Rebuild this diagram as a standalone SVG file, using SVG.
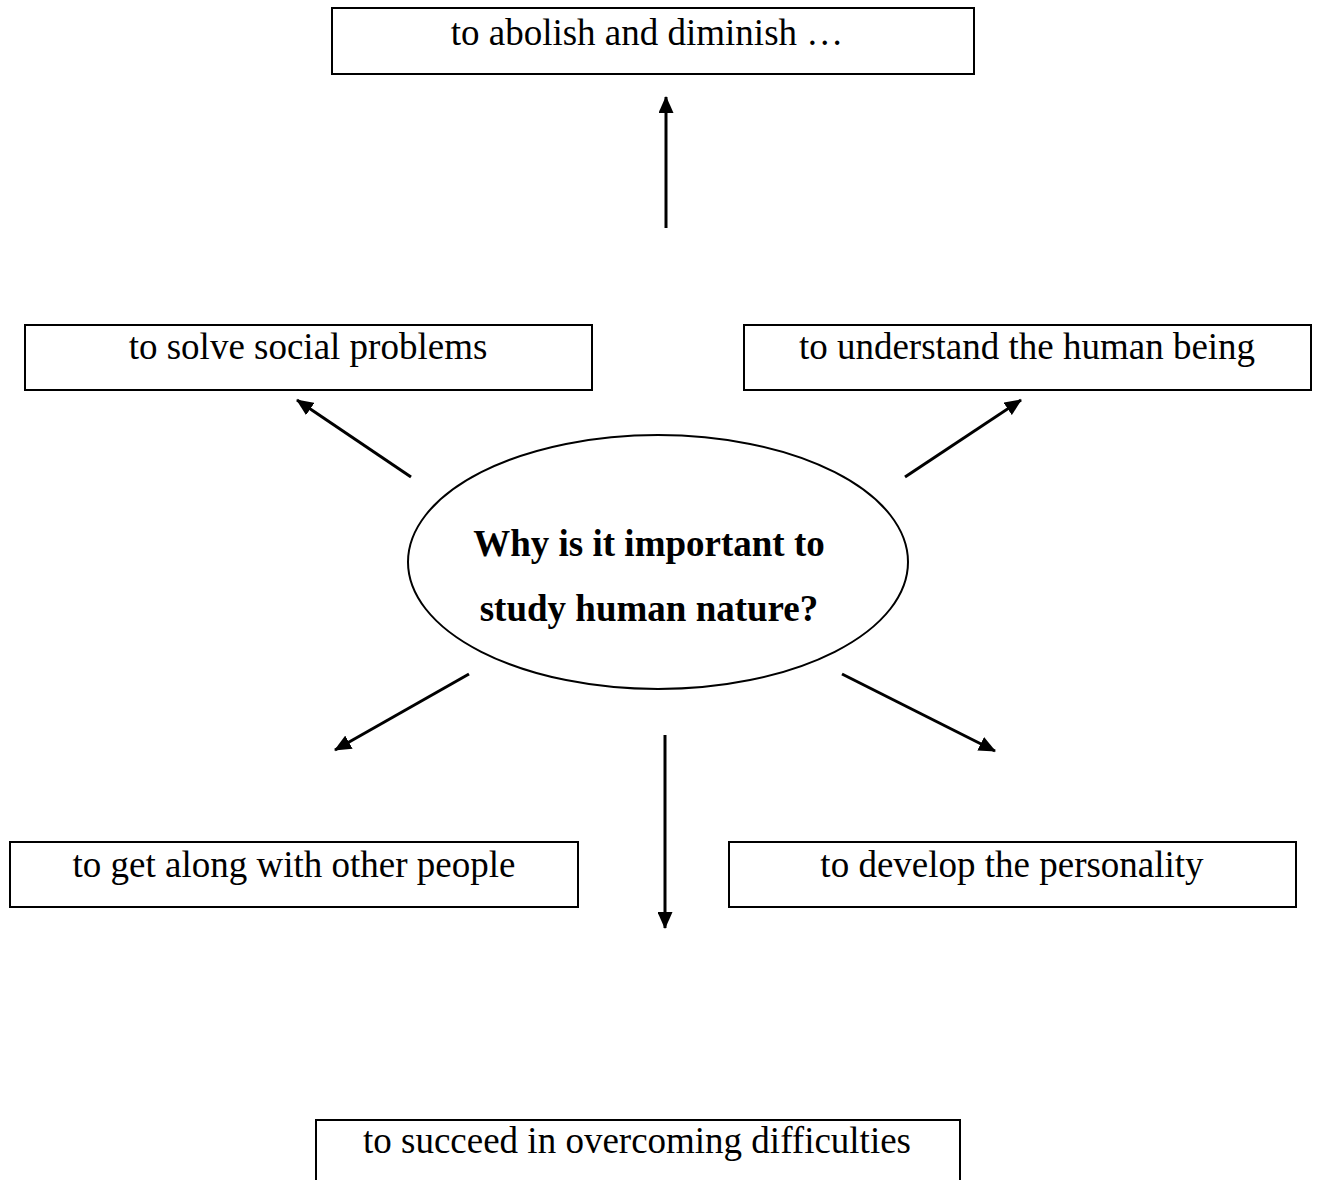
<svg xmlns="http://www.w3.org/2000/svg" width="1321" height="1180" viewBox="0 0 1321 1180">
  <style>
    .box { fill: #fff; stroke: #000; stroke-width: 2; }
    .lbl { font-family: "Liberation Serif", "Times New Roman", serif; font-size: 37px; fill: #000; text-anchor: middle; }
    .hub { font-family: "Liberation Serif", "Times New Roman", serif; font-size: 37px; font-weight: bold; fill: #000; text-anchor: middle; }
    .conn { stroke: #000; stroke-width: 3; fill: none; marker-end: url(#head); }
  </style>
  <defs>
    <!-- filled triangular arrowhead, 17px long and 15px wide -->
    <marker id="head" viewBox="0 0 17 15" refX="16" refY="7.5" markerWidth="17" markerHeight="15" markerUnits="userSpaceOnUse" orient="auto">
      <path d="M0,0 L17,7.5 L0,15 Z" fill="#000"/>
    </marker>
  </defs>
  <rect width="1321" height="1180" fill="#fff"/>

  <g id="connectors">
    <line class="conn" x1="666" y1="228" x2="666" y2="97"/>
    <line class="conn" x1="411" y1="477" x2="297" y2="400"/>
    <line class="conn" x1="905" y1="477" x2="1021" y2="400"/>
    <line class="conn" x1="469" y1="674" x2="335" y2="750"/>
    <line class="conn" x1="842" y1="674" x2="995" y2="751"/>
    <line class="conn" x1="665" y1="735" x2="665" y2="928"/>
  </g>

  <g id="hub">
    <ellipse cx="658" cy="562" rx="250" ry="127" fill="#fff" stroke="#000" stroke-width="2"/>
    <text class="hub" x="649" y="556">Why is it important to</text>
    <text class="hub" x="649" y="621">study human nature?</text>
  </g>

  <g id="abolish">
    <rect class="box" x="332" y="8" width="642" height="66"/>
    <text class="lbl" x="647" y="45">to abolish and diminish …</text>
  </g>

  <g id="solve">
    <rect class="box" x="25" y="325" width="567" height="65"/>
    <text class="lbl" x="308" y="359">to solve social problems</text>
  </g>

  <g id="understand">
    <rect class="box" x="744" y="325" width="567" height="65"/>
    <text class="lbl" x="1027" y="359">to understand the human being</text>
  </g>

  <g id="get-along">
    <rect class="box" x="10" y="842" width="568" height="65"/>
    <text class="lbl" x="294" y="877">to get along with other people</text>
  </g>

  <g id="develop">
    <rect class="box" x="729" y="842" width="567" height="65"/>
    <text class="lbl" x="1012" y="877">to develop the personality</text>
  </g>

  <g id="succeed">
    <rect class="box" x="316" y="1120" width="644" height="80"/>
    <text class="lbl" x="637" y="1153">to succeed in overcoming difficulties</text>
  </g>
</svg>
